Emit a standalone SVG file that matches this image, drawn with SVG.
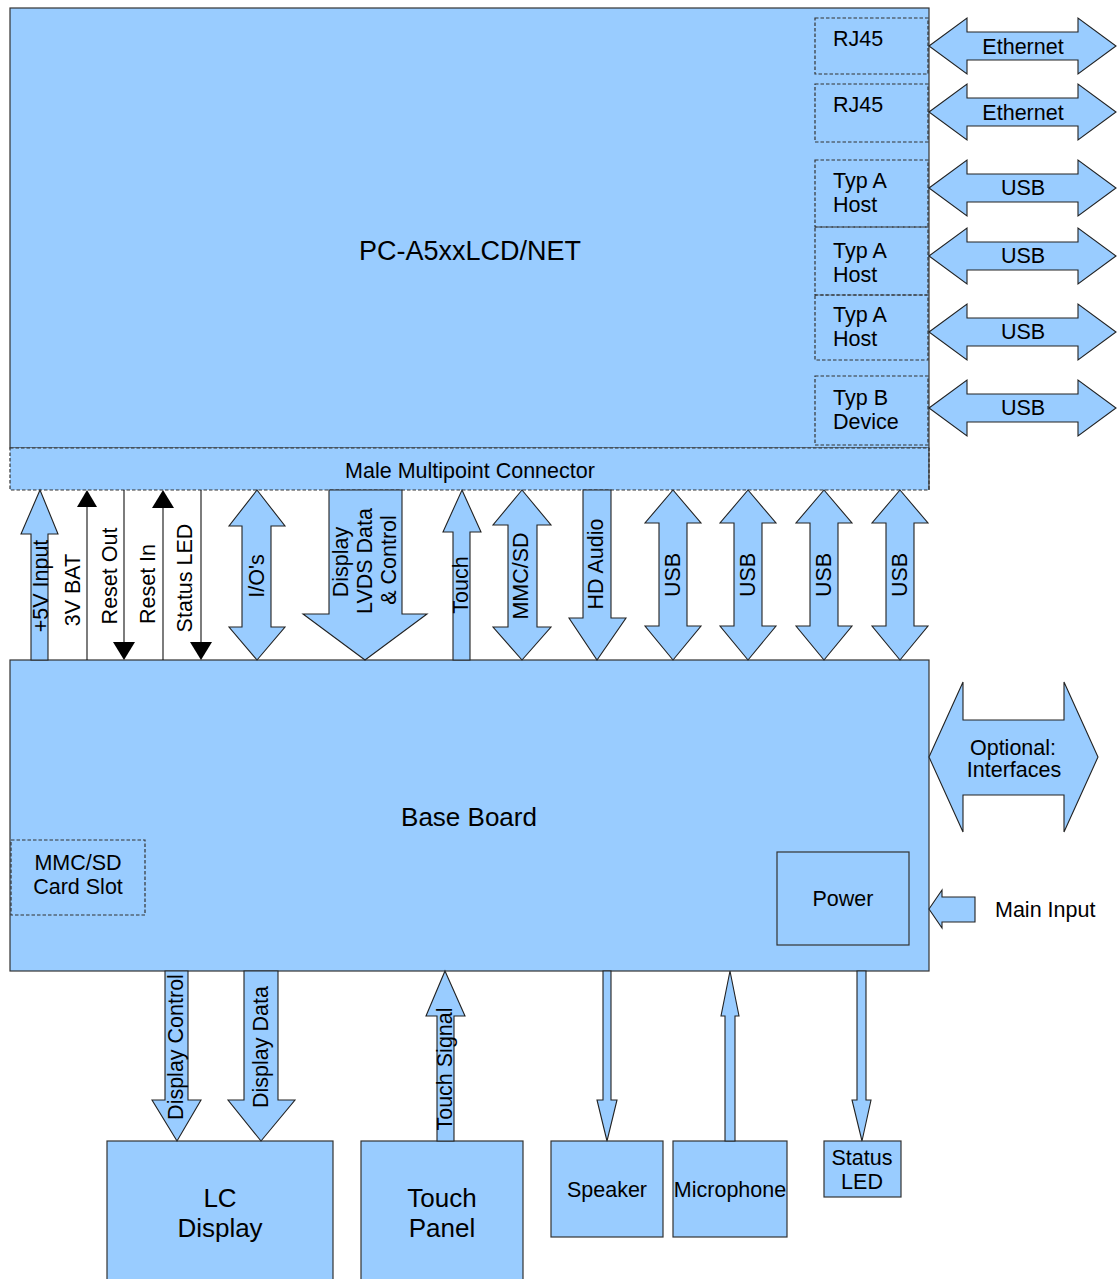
<svg xmlns="http://www.w3.org/2000/svg" width="1118" height="1279" viewBox="0 0 1118 1279">
<style>
.b{fill:#99ccff;stroke:#333;stroke-width:1.2}
.d{fill:none;stroke:#333;stroke-width:1.2;stroke-dasharray:3.5 2}
.a{fill:#99ccff;stroke:#222;stroke-width:1.1;stroke-linejoin:miter}
.l{stroke:#111;stroke-width:1.1;fill:none}
.h{fill:#000}
text{font-family:"Liberation Sans",Arial,sans-serif;font-size:21.5px;fill:#000}
.big{font-size:26px}
.title{font-size:27px}
.m{text-anchor:middle}
</style>
<rect width="1118" height="1279" fill="#fff"/>
<g id="main-board">
<rect class="b" x="10" y="8" width="919" height="440"/>
<text class="title m" x="470" y="260">PC-A5xxLCD/NET</text>
<g id="port-rj45-1"><rect class="d" x="815" y="18" width="113" height="56"/><text x="833" y="46">RJ45</text></g>
<g id="port-rj45-2"><rect class="d" x="815" y="84" width="113" height="58"/><text x="833" y="112">RJ45</text></g>
<g id="port-usb-a1"><rect class="d" x="815" y="160" width="113" height="67"/><text x="833" y="188">Typ A</text><text x="833" y="212">Host</text></g>
<g id="port-usb-a2"><rect class="d" x="815" y="227" width="113" height="68"/><text x="833" y="258">Typ A</text><text x="833" y="282">Host</text></g>
<g id="port-usb-a3"><rect class="d" x="815" y="295" width="113" height="65"/><text x="833" y="322">Typ A</text><text x="833" y="346">Host</text></g>
<g id="port-usb-b"><rect class="d" x="815" y="376" width="113" height="69"/><text x="833" y="405">Typ B</text><text x="833" y="429">Device</text></g>
</g>
<g id="connector">
<rect x="10" y="448" width="919" height="42" fill="#99ccff"/>
<rect class="d" x="10" y="448" width="919" height="42"/>
<line x1="929" y1="448" x2="929" y2="490" stroke="#333" stroke-width="1.2"/>
<text class="m" x="470" y="478">Male Multipoint Connector</text>
</g>
<g id="base-board">
<rect class="b" x="10" y="660" width="919" height="311"/>
<text class="big m" x="469" y="826">Base Board</text>
<g id="card-slot"><rect class="d" x="11" y="840" width="134" height="75"/><text class="m" x="78" y="870">MMC/SD</text><text class="m" x="78" y="894">Card Slot</text></g>
<g id="power"><rect class="b" x="777" y="852" width="132" height="93"/><text class="m" x="843" y="906">Power</text></g>
</g>
<g id="lc-display"><rect class="b" x="107" y="1141" width="226" height="150"/><text class="big m" x="220" y="1207">LC</text><text class="big m" x="220" y="1237">Display</text></g>
<g id="touch-panel"><rect class="b" x="361" y="1141" width="162" height="150"/><text class="big m" x="442" y="1207">Touch</text><text class="big m" x="442" y="1237">Panel</text></g>
<g id="speaker"><rect class="b" x="551" y="1141" width="112" height="96"/><text class="m" x="607" y="1197">Speaker</text></g>
<g id="microphone"><rect class="b" x="673" y="1141" width="114" height="96"/><text class="m" x="730" y="1197">Microphone</text></g>
<g id="status-led"><rect class="b" x="824" y="1141" width="77" height="56"/><text class="m" x="862" y="1165">Status</text><text class="m" x="862" y="1189">LED</text></g>
<g id="connectors">
<path class="a" d="M929,46 L967,18 L967,32 L1078,32 L1078,18 L1116,46 L1078,74 L1078,60 L967,60 L967,74 Z"/>
<text class="m" x="1023" y="54">Ethernet</text>
<path class="a" d="M929,112 L967,84 L967,98 L1078,98 L1078,84 L1116,112 L1078,140 L1078,126 L967,126 L967,140 Z"/>
<text class="m" x="1023" y="120">Ethernet</text>
<path class="a" d="M929,188 L967,160 L967,174 L1078,174 L1078,160 L1116,188 L1078,216 L1078,202 L967,202 L967,216 Z"/>
<text class="m" x="1023" y="195">USB</text>
<path class="a" d="M929,256 L967,228 L967,242 L1078,242 L1078,228 L1116,256 L1078,284 L1078,270 L967,270 L967,284 Z"/>
<text class="m" x="1023" y="263">USB</text>
<path class="a" d="M929,332 L967,304 L967,318 L1078,318 L1078,304 L1116,332 L1078,360 L1078,346 L967,346 L967,360 Z"/>
<text class="m" x="1023" y="339">USB</text>
<path class="a" d="M929,408 L967,380 L967,394 L1078,394 L1078,380 L1116,408 L1078,436 L1078,422 L967,422 L967,436 Z"/>
<text class="m" x="1023" y="415">USB</text>
<path class="a" d="M929,757 L963,682 L963,720 L1064,720 L1064,682 L1098,757 L1064,832 L1064,795 L963,795 L963,832 Z"/>
<text class="m" x="1013" y="755">Optional:</text>
<text class="m" x="1014" y="777">Interfaces</text>
<path class="a" d="M929,909 L942,890 L942,897 L975,897 L975,922 L942,922 L942,928 Z"/>
<text x="995" y="917">Main Input</text>
<path class="a" d="M40,490 L58,534 L48,534 L48,660 L31,660 L31,534 L21,534 Z"/>
<text class="m" transform="translate(48,586) rotate(-90)">+5V Input</text>
<line class="l" x1="87" y1="506" x2="87" y2="660"/><path class="h" d="M87,490 L97,507 L77,507 Z"/>
<text class="m" transform="translate(80,590) rotate(-90)">3V BAT</text>
<line class="l" x1="124" y1="490" x2="124" y2="644"/><path class="h" d="M124,660 L113,642 L135,642 Z"/>
<text class="m" transform="translate(117,576) rotate(-90)">Reset Out</text>
<line class="l" x1="163" y1="506" x2="163" y2="660"/><path class="h" d="M163,490 L174,508 L152,508 Z"/>
<text class="m" transform="translate(155,584) rotate(-90)">Reset In</text>
<line class="l" x1="201" y1="490" x2="201" y2="644"/><path class="h" d="M201,660 L190,642 L212,642 Z"/>
<text class="m" transform="translate(192,578) rotate(-90)">Status LED</text>
<path class="a" d="M257,490 L285,526 L271,526 L271,627 L285,627 L257,660 L229,627 L242,627 L242,526 L229,526 Z"/>
<text class="m" transform="translate(264,576) rotate(-90)">I/O's</text>
<path class="a" d="M329,490 L402,490 L402,614 L427,614 L365,660 L303,614 L329,614 Z"/>
<text class="m" transform="translate(348,562) rotate(-90)">Display</text>
<text class="m" transform="translate(372,561) rotate(-90)">LVDS Data</text>
<text class="m" transform="translate(396,560) rotate(-90)">&amp; Control</text>
<path class="a" d="M462,490 L481,532 L470,532 L470,660 L453,660 L453,532 L443,532 Z"/>
<text class="m" transform="translate(468,585) rotate(-90)">Touch</text>
<path class="a" d="M522,490 L551,525 L537,525 L537,627 L551,627 L522,660 L493,627 L508,627 L508,525 L493,525 Z"/>
<text class="m" transform="translate(528,576) rotate(-90)">MMC/SD</text>
<path class="a" d="M583,490 L611,490 L611,618 L626,618 L597,660 L569,618 L583,618 Z"/>
<text class="m" transform="translate(603,564) rotate(-90)">HD Audio</text>
<path class="a" d="M673,490 L701,523 L687,523 L687,626 L701,626 L673,660 L645,626 L659,626 L659,523 L645,523 Z"/>
<text class="m" transform="translate(680,575) rotate(-90)">USB</text>
<path class="a" d="M748,490 L776,523 L762,523 L762,626 L776,626 L748,660 L720,626 L734,626 L734,523 L720,523 Z"/>
<text class="m" transform="translate(755,575) rotate(-90)">USB</text>
<path class="a" d="M824,490 L852,523 L838,523 L838,626 L852,626 L824,660 L796,626 L810,626 L810,523 L796,523 Z"/>
<text class="m" transform="translate(831,575) rotate(-90)">USB</text>
<path class="a" d="M900,490 L928,523 L914,523 L914,626 L928,626 L900,660 L872,626 L886,626 L886,523 L872,523 Z"/>
<text class="m" transform="translate(907,575) rotate(-90)">USB</text>
<path class="a" d="M165,971 L188,971 L188,1100 L201,1100 L177,1141 L152,1100 L165,1100 Z"/>
<text class="m" transform="translate(183,1047) rotate(-90)">Display Control</text>
<path class="a" d="M244,971 L278,971 L278,1100 L295,1100 L261,1141 L228,1100 L244,1100 Z"/>
<text class="m" transform="translate(268,1047) rotate(-90)">Display Data</text>
<path class="a" d="M445,971 L465,1016 L454,1016 L454,1141 L437,1141 L437,1016 L426,1016 Z"/>
<text class="m" transform="translate(452,1069) rotate(-90)">Touch Signal</text>
<path class="a" d="M603,971 L611,971 L611,1100 L617,1100 L607,1141 L597,1100 L603,1100 Z"/>
<path class="a" d="M730,971 L739,1016 L735,1016 L735,1141 L725,1141 L725,1016 L721,1016 Z"/>
<path class="a" d="M857,971 L866,971 L866,1100 L871,1100 L862,1141 L852,1100 L857,1100 Z"/>
</g>
</svg>
